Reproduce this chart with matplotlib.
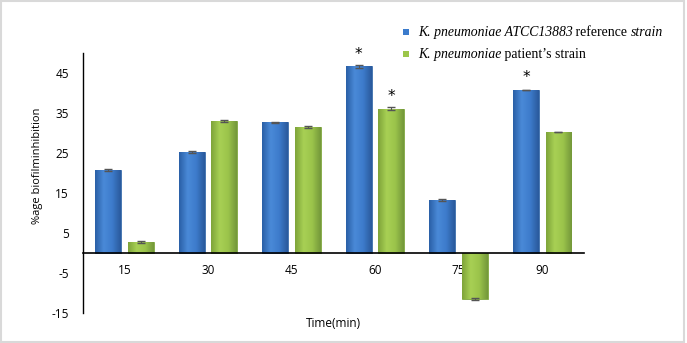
import matplotlib
matplotlib.use("Agg")
import matplotlib.pyplot as plt
import numpy as np
from matplotlib.patches import Rectangle
from matplotlib.colors import LinearSegmentedColormap

categories = ["15", "30", "45", "60", "75", "90"]
reference = [20.7, 25.2, 32.7, 46.7, 13.2, 40.8]
patient = [2.8, 33.0, 31.5, 36.1, -11.5, 30.3]
ref_err = [0.3, 0.3, 0.2, 0.4, 0.2, 0.0]
pat_err = [0.3, 0.3, 0.2, 0.4, 0.2, 0.0]
ref_sig = [False, False, False, True, False, True]
pat_sig = [False, False, False, True, False, False]
yticks = [-15, -5, 5, 15, 25, 35, 45]
legend_runs = [
    [("K. pneumoniae ATCC13883", "italic"), (" reference ", "normal"), ("strain", "italic")],
    [("K. pneumoniae", "italic"), (" patient’s strain", "normal")],
]

blue = "#3b7bcc"
green = "#9cc64a"
blue_cmap = LinearSegmentedColormap.from_list("b", ["#2a5fa6", "#4a8ad8", "#3d7bcb", "#2a5a9c"])
green_cmap = LinearSegmentedColormap.from_list("g", ["#7ea43a", "#a8d054", "#9bc44b", "#74983a"])

fig = plt.figure(figsize=(6.87, 3.43), dpi=100)
ax = fig.add_axes([0.1204, 0.0875, 0.7296, 0.7575])

x = np.arange(len(categories))
w = 0.31
off = 0.195
grad = np.linspace(0, 1, 64).reshape(1, -1)
for vals, color, cmap, ec, sign in [(reference, blue, blue_cmap, "#2a5e9e", -1),
                                     (patient, green, green_cmap, "#6f9a2e", 1)]:
    bars = ax.bar(x + sign * off, vals, w, color=color, edgecolor=ec, linewidth=0.5, zorder=2)
    for b in bars:
        x0, y0 = b.get_x(), b.get_y()
        bw, bh = b.get_width(), b.get_height()
        im = ax.imshow(grad, cmap=cmap, aspect="auto", extent=[x0, x0 + bw, y0, y0 + bh],
                       zorder=2.1, interpolation="bicubic")
        im.set_clip_path(b)

ax.errorbar(x - off, reference, yerr=ref_err, fmt="none", ecolor="#555555", capsize=3, elinewidth=0.8, zorder=3)
ax.errorbar(x + off, patient, yerr=pat_err, fmt="none", ecolor="#555555", capsize=3, elinewidth=0.8, zorder=3)

for i in range(len(categories)):
    if ref_sig[i]:
        ax.text(x[i] - off, reference[i] + 1.2, "*", ha="center", va="bottom", fontsize=11)
    if pat_sig[i]:
        ax.text(x[i] + off, patient[i] + 1.2, "*", ha="center", va="bottom", fontsize=11)

ax.set_xlim(-0.5, len(categories) - 0.5)
ax.set_ylim(-15, 50)
ax.set_yticks(yticks)
ax.set_yticklabels([str(t) for t in yticks], fontsize=8.5, family="Open Sans", fontweight="medium")
ax.tick_params(axis="y", length=0, pad=10)
ax.spines["top"].set_visible(False)
ax.spines["right"].set_visible(False)
ax.spines["bottom"].set_position(("data", 0))
ax.spines["bottom"].set_linewidth(1.2)
ax.spines["left"].set_linewidth(1.0)
ax.set_xticks(x)
ax.set_xticklabels(categories, fontsize=8.5, family="Open Sans", fontweight="medium")
ax.tick_params(axis="x", length=0, pad=8)

fig.text(0.054, 0.516, "%age biofilminhibition", rotation=90, ha="center", va="center",
         fontsize=8, family="Open Sans")
fig.text(0.485, 0.058, "Time(min)", ha="center", va="center", fontsize=8.5, family="Open Sans")

# legend drawn as text runs
renderer = fig.canvas.get_renderer()
colors = [blue, green]
ys = [0.905, 0.842]
for row, yy, col in zip(legend_runs, ys, colors):
    fig.patches.append(Rectangle((0.586, yy - 0.008), 0.009, 0.018, transform=fig.transFigure,
                                 facecolor=col, edgecolor="none"))
    xpix = 0.608 * fig.bbox.width
    for txt, style in row:
        t = fig.text(xpix / fig.bbox.width, yy, txt, ha="left", va="center", fontsize=9.9,
                     family="Liberation Serif", style=style)
        bb = t.get_window_extent(renderer)
        xpix += bb.width

fig.patches.append(Rectangle((0.002, 0.003), 0.994, 0.994, transform=fig.transFigure,
                             fill=False, edgecolor="#d9d9d9", linewidth=1.5))
fig.savefig("out.png", dpi=100)
